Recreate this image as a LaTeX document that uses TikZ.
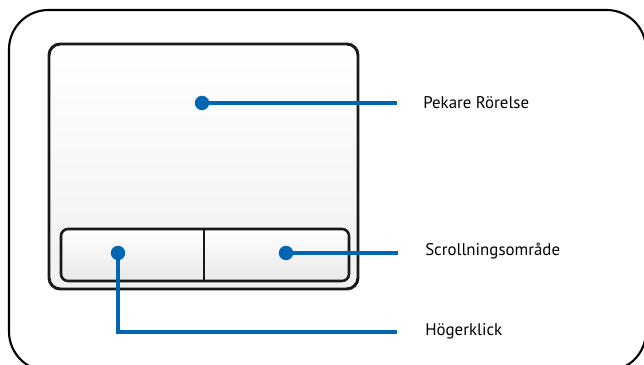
\documentclass[tikz,border=0pt]{standalone}
\usepackage{fontspec}
\setmainfont{PT Sans}
\usetikzlibrary{positioning}
\definecolor{leaderblue}{HTML}{0066B3}

\begin{document}
\begin{tikzpicture}[
  x=0.025cm,y=-0.025cm,
  frame/.style={draw=black,line width=1.5pt,rounded corners=28},
  pad/.style={draw=black!90,line width=2.1pt,rounded corners=8,
    top color=white,bottom color=black!6},
  buttons/.style={draw=black!90,line width=1.8pt,rounded corners=5,
    top color=white,bottom color=black!9},
  dot/.style={circle,fill=leaderblue,inner sep=0pt,minimum size=0.36cm},
  leader/.style={draw=leaderblue,line width=2.3pt},
  callout/.style={anchor=west,inner sep=0pt,font=\fontsize{12}{14}\selectfont}
]
\useasboundingbox (0,0) rectangle (644,365);
\clip (0,0) rectangle (644,365);
\draw[frame] (9,10) rectangle (646,371);
\draw[pad] (49,44) rectangle (358,289);
\draw[buttons] (61,229) rectangle (349,281);
\draw[black!90,line width=1.4pt] (204,229) -- (204,281);

\node[dot] (pointerdot) at (202,103) {};
\node[dot] (scrolldot) at (286,253) {};
\node[dot] (clickdot) at (118,253) {};

\node[callout] (pointerlabel) at (423,103) {Pekare Rörelse};
\node[callout] (scrolllabel) at (425,251) {Scrollningsområde};
\node[callout] (clicklabel) at (425,331) {Högerklick};

\coordinate (pointerend) at (397,103);
\coordinate (scrollend) at (398,253);
\coordinate (clickend) at (397,332);

\draw[leader] (pointerdot.center) -- (pointerend);
\draw[leader] (scrolldot.center) -- (scrollend);
\draw[leader] (clickdot.center) |- (clickend);
\end{tikzpicture}
\end{document}
